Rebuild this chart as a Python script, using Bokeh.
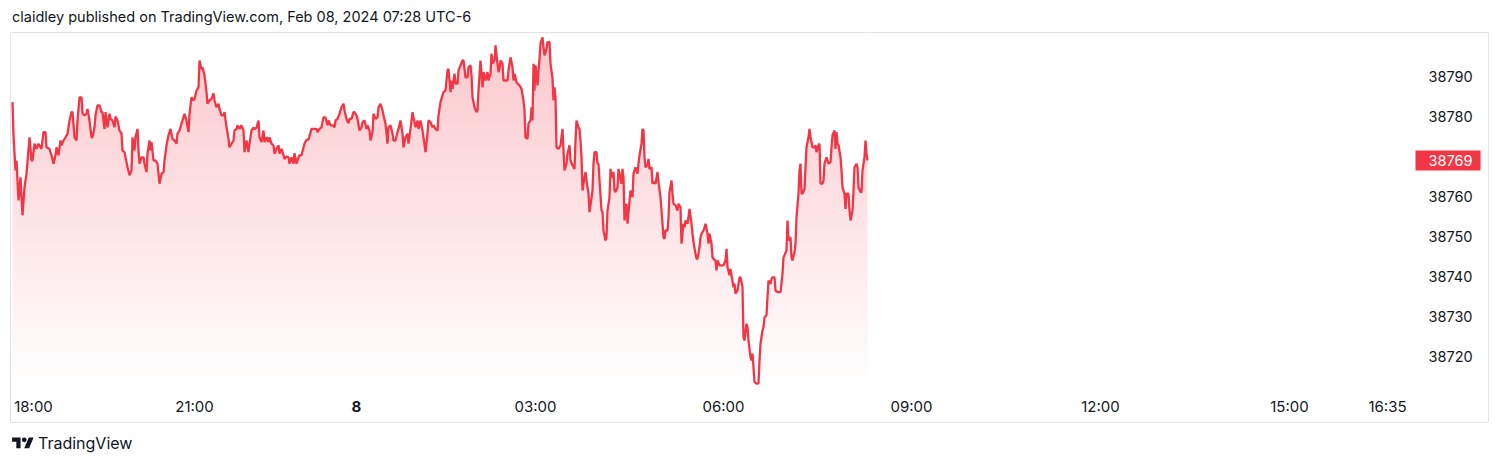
import numpy as np
from bokeh.plotting import figure
from bokeh.models import Range1d, Div
from bokeh.layouts import column
from bokeh.core.properties import value
from bokeh.embed import file_html
from bokeh.resources import INLINE

# ---- data (bar index, close price) ----
bars = [0, 1, 3, 4, 6, 8, 9, 10, 12, 14, 17, 19, 20, 22, 24, 26, 29, 31, 33, 34, 37, 39, 41, 43, 44, 46, 48, 49, 51, 53,
        55, 57, 59, 60, 62, 64, 65, 67, 69, 70, 72, 74, 75, 77, 79, 80, 82, 83, 85, 87, 89, 90, 92, 93, 95, 97, 98, 100, 102, 103,
        105, 107, 109, 110, 112, 113, 115, 117, 119, 120, 122, 123, 125, 126, 127, 129, 131, 132, 134, 135, 137, 138, 139, 141, 143,
        145, 147, 149, 151, 152, 154, 156, 158, 160, 162, 164, 165, 167, 169, 170, 172, 174, 176, 177, 179, 181, 182, 184, 186, 187,
        189, 190, 192, 194, 195, 197, 199, 201, 202, 204, 206, 207, 209, 211, 212, 214, 216, 217, 219, 221, 222, 224, 225, 227, 229,
        231, 232, 234, 236, 237, 239, 241, 242, 244, 246, 247, 249, 251, 252, 254, 256, 257, 259, 261, 262, 264, 266, 267, 269, 271,
        272, 274, 276, 277, 279, 281, 282, 284, 286, 287, 289,
        292, 294, 296, 299, 301, 304, 305, 307, 309, 311, 313, 315, 316, 318, 320, 322, 323, 325, 327, 329, 331, 332, 334, 336, 337,
        339, 341, 342, 344, 345, 347, 349, 350, 352, 354, 355, 357, 358, 360, 361, 363, 365, 366, 368, 370, 371, 373, 375, 376, 378,
        380, 381, 383, 385, 386, 388, 390, 391, 393, 395, 396, 398, 400, 401, 403, 405, 406, 408, 410, 411, 413, 415, 416, 418, 420,
        421, 423, 425, 426, 428, 430, 431, 433,
        435, 436, 438, 439, 440, 442, 443, 445, 446, 448, 450, 451, 453, 455, 456, 458, 459, 460, 462, 464, 465, 466, 468, 469, 470,
        471, 473, 475, 476, 478, 479, 480, 482, 483, 484, 486, 487, 488, 490, 491, 493, 495, 496, 498, 500, 501, 502, 504, 505, 507,
        509, 511, 512, 513, 515, 516, 518, 519, 520, 521, 522, 523, 525, 526, 527, 528, 530, 531, 532, 534, 535, 537, 538, 540, 541,
        542, 543, 544, 546, 548, 550, 551, 552, 554, 555, 557, 558, 560, 562, 563, 564, 566, 567, 568, 569, 570, 572, 573, 574, 576,
        577,
        580, 581, 582, 584, 585, 586, 587, 589, 590, 591, 593, 594, 595, 597, 598, 599, 601, 602, 603, 605, 606, 607, 609, 610, 611,
        612, 614, 615, 616, 618, 620, 621, 623, 625, 626, 627, 629, 630, 631, 632, 633, 635, 636, 637, 639, 640, 641, 643, 645, 646,
        648, 649, 651, 652, 653, 655, 656, 657, 659, 660, 661, 663, 665, 666, 668, 669, 671, 672, 673, 675, 676, 677, 679, 680, 681,
        683, 684, 685, 687, 688, 689, 691, 692, 693, 695, 696, 697, 699, 700, 701, 703, 704, 705, 707, 709, 711, 713, 714, 715, 717,
        718, 719, 721, 722, 723, 725,
        727, 728, 730, 731, 732, 734, 735, 736, 738, 739, 740, 742, 744, 746, 747, 748, 750, 751, 752, 754, 755, 756, 758, 759, 760,
        762, 763, 765, 766, 768, 770, 771, 772, 774, 775, 776, 778, 779, 780, 782, 783, 784, 786, 787, 788, 789, 790, 792, 793, 794,
        796, 797, 798, 800, 802, 803, 804, 806, 807, 808, 810, 811, 812, 814, 815, 816, 818, 819, 820, 822, 823, 824, 825, 826, 828,
        829, 830, 832, 833, 834, 836, 837, 838, 840, 841, 842, 844, 845, 846, 848, 849, 850, 852, 853, 854, 855]

close = [38783.6, 38775.3, 38766.5, 38769.0, 38759.0, 38764.8, 38759.8, 38755.3, 38762.3, 38765.7, 38774.8, 38769.0, 38769.0,
         38773.2, 38771.9, 38773.2, 38771.9, 38776.1, 38776.1, 38772.3, 38771.9, 38770.3, 38768.2, 38770.3, 38772.3, 38770.3,
         38774.0, 38772.8, 38774.0, 38774.8, 38775.7, 38779.0, 38781.1, 38781.1, 38774.8, 38774.0, 38779.0, 38784.8, 38784.8,
         38780.7, 38780.3, 38780.7, 38781.9, 38779.0, 38774.8, 38774.8, 38777.3, 38780.3, 38782.8, 38782.8, 38781.1, 38781.1,
         38776.9, 38781.1, 38777.3, 38780.7, 38779.4, 38779.0, 38777.3, 38780.0, 38779.0, 38776.5, 38775.7, 38771.5, 38771.1,
         38769.8, 38767.3, 38765.3, 38766.5, 38774.8, 38771.5, 38774.8, 38776.9, 38771.5, 38768.2, 38769.8, 38769.8, 38768.2,
         38766.1, 38770.7, 38774.0, 38771.5, 38773.6, 38769.0, 38769.0,
         38768.2, 38763.2, 38765.7, 38766.1, 38769.0, 38772.8, 38775.3, 38776.9, 38774.4, 38774.0, 38773.2, 38775.7, 38776.5,
         38778.2, 38779.0, 38780.7, 38779.0, 38776.1, 38780.7, 38784.8, 38784.0, 38784.4, 38786.5, 38787.3, 38794.0, 38791.9,
         38792.3, 38790.3, 38786.1, 38783.2, 38784.0, 38784.4, 38785.8, 38784.0, 38782.3, 38783.2, 38781.9, 38780.3, 38780.3,
         38781.1, 38777.3, 38774.4, 38772.3, 38773.2, 38774.0, 38776.5, 38776.9, 38777.8, 38776.9, 38777.8, 38776.5, 38771.1,
         38774.0, 38771.1, 38773.2, 38776.5, 38777.2, 38776.9, 38777.2, 38779.0, 38774.8, 38773.6, 38776.5, 38773.6, 38774.8,
         38773.6, 38774.8, 38773.2, 38772.8, 38770.7, 38771.9, 38772.8, 38770.7, 38771.9, 38770.3, 38769.4, 38770.0, 38769.8,
         38768.2, 38769.8, 38768.2, 38770.8, 38768.2, 38769.8, 38770.3, 38770.3,
         38773.2, 38774.2, 38774.2, 38776.9, 38776.9, 38776.9, 38776.1, 38776.9, 38777.3, 38779.8, 38779.8, 38777.8, 38779.0,
         38777.8, 38777.8, 38777.3, 38779.0, 38779.4, 38780.7, 38782.3, 38783.2, 38781.5, 38779.4, 38778.3, 38779.4, 38779.4,
         38781.1, 38781.1, 38780.3, 38779.4, 38776.5, 38777.3, 38778.6, 38779.0, 38776.9, 38777.8, 38776.5, 38774.0, 38776.1,
         38780.7, 38779.4, 38779.8, 38782.3, 38783.2, 38781.5, 38780.3, 38778.2, 38773.2, 38777.3, 38777.8, 38775.7, 38774.0,
         38774.0, 38776.1, 38776.9, 38779.0, 38775.7, 38772.3, 38774.8, 38775.7, 38773.2, 38776.9, 38781.1, 38779.8, 38777.3,
         38779.0, 38776.9, 38779.0, 38776.5, 38774.8, 38771.1, 38775.7, 38779.0, 38778.6, 38777.3, 38777.8, 38776.9, 38776.5,
         38780.3, 38783.6, 38785.3, 38786.1, 38786.5,
         38791.5, 38791.9, 38786.1, 38789.0, 38786.9, 38790.7, 38788.2, 38788.2, 38791.5, 38792.8, 38794.0, 38794.0, 38789.8,
         38789.8, 38792.3, 38792.8, 38790.3, 38784.8, 38782.3, 38781.1, 38781.5, 38786.5, 38794.0, 38790.7, 38787.3, 38791.1,
         38789.0, 38791.1, 38789.0, 38790.7, 38795.7, 38793.2, 38794.0, 38797.8, 38795.3, 38791.1, 38791.9, 38794.0, 38793.2,
         38789.0, 38789.0, 38789.0, 38791.5, 38794.8, 38792.3, 38789.0, 38790.7, 38788.6, 38788.2, 38787.8, 38786.9, 38784.0,
         38781.5, 38774.8, 38774.4, 38778.2, 38779.0, 38782.3, 38779.0, 38793.2, 38786.5, 38792.8, 38787.8, 38791.5, 38794.4,
         38798.2, 38799.8, 38797.3, 38795.3, 38796.9, 38798.6, 38798.6, 38793.2, 38789.4, 38784.0, 38787.3, 38784.8, 38772.3,
         38771.9, 38772.8, 38776.9, 38771.5, 38766.5, 38768.2, 38770.7, 38772.8, 38769.0, 38767.8, 38766.9, 38774.0, 38779.0,
         38777.3, 38776.9, 38774.0, 38769.8, 38761.5, 38764.8, 38766.1, 38764.0, 38760.7, 38756.1,
         38761.5, 38768.2, 38771.1, 38771.1, 38768.2, 38768.2, 38764.0, 38756.5, 38756.1, 38751.5, 38749.0, 38749.8, 38756.5,
         38759.8, 38766.9, 38764.8, 38766.1, 38761.5, 38761.1, 38762.3, 38766.9, 38765.7, 38763.2, 38766.9, 38764.8, 38754.0,
         38758.2, 38753.2, 38756.1, 38761.5, 38759.8, 38765.7, 38767.3, 38765.7, 38768.2, 38770.3, 38773.2, 38776.9, 38776.5,
         38769.8, 38767.3, 38767.8, 38769.4, 38766.9, 38767.3, 38763.2, 38763.6, 38763.2, 38766.1, 38763.6, 38759.8, 38756.5,
         38749.8, 38749.4, 38751.5, 38751.5, 38754.8, 38761.1, 38764.0, 38760.7, 38758.2, 38757.8, 38756.5, 38758.2, 38757.3,
         38748.2, 38753.2, 38752.3, 38754.0, 38753.2, 38754.8, 38756.9, 38753.2, 38750.7, 38748.6, 38745.7, 38744.4, 38744.4,
         38747.3, 38749.8, 38750.7, 38751.5, 38752.3, 38753.2, 38750.7, 38748.2, 38750.7, 38748.2, 38744.8, 38744.4, 38744.0,
         38741.5, 38744.0, 38742.8, 38742.8, 38742.8, 38744.0, 38746.9, 38742.3, 38740.3, 38741.9, 38740.3, 38737.3, 38738.2,
         38735.7, 38736.5,
         38739.8, 38739.8, 38737.3, 38724.8, 38724.0, 38728.2, 38727.3, 38724.0, 38719.8, 38719.0, 38720.7, 38713.6, 38713.2,
         38713.3, 38719.0, 38723.2, 38726.5, 38727.3, 38729.8, 38730.3, 38734.8, 38739.0, 38738.2, 38739.4, 38739.8, 38739.8,
         38736.5, 38736.1, 38736.1, 38736.1, 38740.7, 38744.8, 38745.3, 38746.5, 38754.0, 38749.0, 38749.8, 38744.8, 38744.0,
         38746.1, 38748.2, 38754.8, 38760.7, 38766.5, 38768.2, 38760.7, 38760.7, 38761.9, 38767.3, 38772.3, 38774.8, 38776.9,
         38774.8, 38772.3, 38772.3, 38772.8, 38771.1, 38772.8, 38773.2, 38763.2, 38763.2, 38764.0, 38768.2, 38769.8, 38769.0,
         38768.2, 38768.6, 38772.3, 38775.3, 38776.5, 38771.9, 38776.1, 38773.2, 38772.8, 38769.8, 38766.5, 38762.3, 38760.7,
         38756.9, 38760.7, 38760.7, 38756.5, 38754.0, 38756.5, 38761.5, 38767.3, 38768.2, 38767.3, 38762.3, 38761.1, 38761.1,
         38766.5, 38769.8, 38774.0, 38770.7, 38769.0]

price_ticks = [38720, 38730, 38740, 38750, 38760, 38780, 38790]
price_tick_labels = ["38720", "38730", "38740", "38750", "38760", "38780", "38790"]
time_tick_bars = [21, 182, 523, 711, 899, 1088, 1277, 1375]
time_tick_labels = ["18:00", "21:00", "03:00", "06:00", "09:00", "12:00", "15:00", "16:35"]
day_bar = [344]
day_label = ["8"]
last_price = close[-1]

header_text = "claidley published on TradingView.com, Feb 08, 2024 07:28 UTC-6"

RED = "#F23645"
TXT = "#131722"
FONT = "Inter"

# ---- scales: one pane whose frame is the bordered box ----
x_start, x_end = -2, 1477          # bar units (1 bar ~ 1 px)
y_low, y_high = 38703.25, 38801.0  # price units (1 pt = 4 px)
fill_base = 38711.0                # bottom of the price pane
time_label_y = 38707.5             # middle of the time-scale strip
price_label_x = 1416               # left edge of price-scale labels
price_box_x = 1435.5               # centre of the last-price tag

p = figure(width=1479, height=391, output_backend="svg", toolbar_location=None,
           x_range=Range1d(x_start, x_end), y_range=Range1d(y_low, y_high),
           x_axis_location=None, y_axis_location=None,
           min_border_left=0, min_border_top=0, min_border_right=0, min_border_bottom=0,
           margin=(0, 0, 0, 10))
p.outline_line_color = "#E0E3EB"
p.outline_line_width = 1
p.grid.visible = False
p.background_fill_color = "white"
p.border_fill_color = "white"

# gradient fill under the line: vertical gradient image, masked above the line
n = 400
alpha = np.linspace(0.0, 0.28, n)
img = np.zeros((n, 1), dtype=np.uint32)
v = img.view(dtype=np.uint8).reshape((n, 1, 4))
v[:, :, 0] = 242
v[:, :, 1] = 54
v[:, :, 2] = 69
v[:, :, 3] = (alpha * 255).astype(np.uint8)[:, None]
p.image_rgba(image=[img], x=bars[0], y=fill_base, dw=bars[-1] - bars[0], dh=y_high - fill_base)

# white mask above the line (extended a little past both ends so the image edge is hidden)
mask_x = [bars[0] - 2] + bars + [bars[-1] + 2]
mask_y = [close[0]] + close + [close[-1]]
p.varea(x=mask_x, y1=mask_y, y2=[y_high] * len(mask_x), fill_color="white", fill_alpha=1.0)
p.line(bars, close, line_color=RED, line_width=2.3)

# price scale labels
p.text(x=[price_label_x] * len(price_ticks), y=price_ticks, text=price_tick_labels,
       text_font=value(FONT), text_font_size=value("14.5px"), text_color=TXT,
       text_align="left", text_baseline="middle")

# last price tag
p.rect(x=[price_box_x], y=[last_price], width=65, height=20, width_units="screen", height_units="screen",
       fill_color=RED, line_color=None)
p.text(x=[price_label_x], y=[last_price], text=[f"{last_price:.0f}"],
       text_font=value(FONT), text_font_size=value("14.5px"), text_color="white",
       text_align="left", text_baseline="middle")

# time scale labels
p.text(x=time_tick_bars, y=[time_label_y] * len(time_tick_bars), text=time_tick_labels,
       text_font=value(FONT), text_font_size=value("15px"), text_color=TXT,
       text_align="center", text_baseline="middle")
p.text(x=day_bar, y=[time_label_y], text=day_label,
       text_font=value(FONT), text_font_size=value("15px"), text_color=TXT, text_font_style="bold",
       text_align="center", text_baseline="middle")

header = Div(text=f'<div style="font-family:{FONT};font-size:14.5px;color:{TXT};line-height:18px;'
                  f'padding-left:12px;padding-top:8px;white-space:nowrap;">{header_text}</div>',
             width=1500, height=32, margin=(0, 0, 0, 0))

logo_svg = ('<svg width="22" height="17" viewBox="0 0 36 28" style="margin-right:4px">'
            f'<path d="M14 22H7V11H0V4h14v18zM28 22h-8l7.5-18h8L28 22z" fill="{TXT}"/>'
            f'<circle cx="20" cy="8" r="4" fill="{TXT}"/></svg>')
footer = Div(text=f'<div style="font-family:{FONT};font-size:16px;color:{TXT};line-height:20px;'
                  f'padding-left:12px;padding-top:10px;display:flex;align-items:center;">'
                  f'{logo_svg}<span>TradingView</span></div>',
             width=1500, height=40, margin=(0, 0, 0, 0))

layout = column(header, p, footer, spacing=0)
open("out.html", "w").write(file_html(layout, INLINE))
